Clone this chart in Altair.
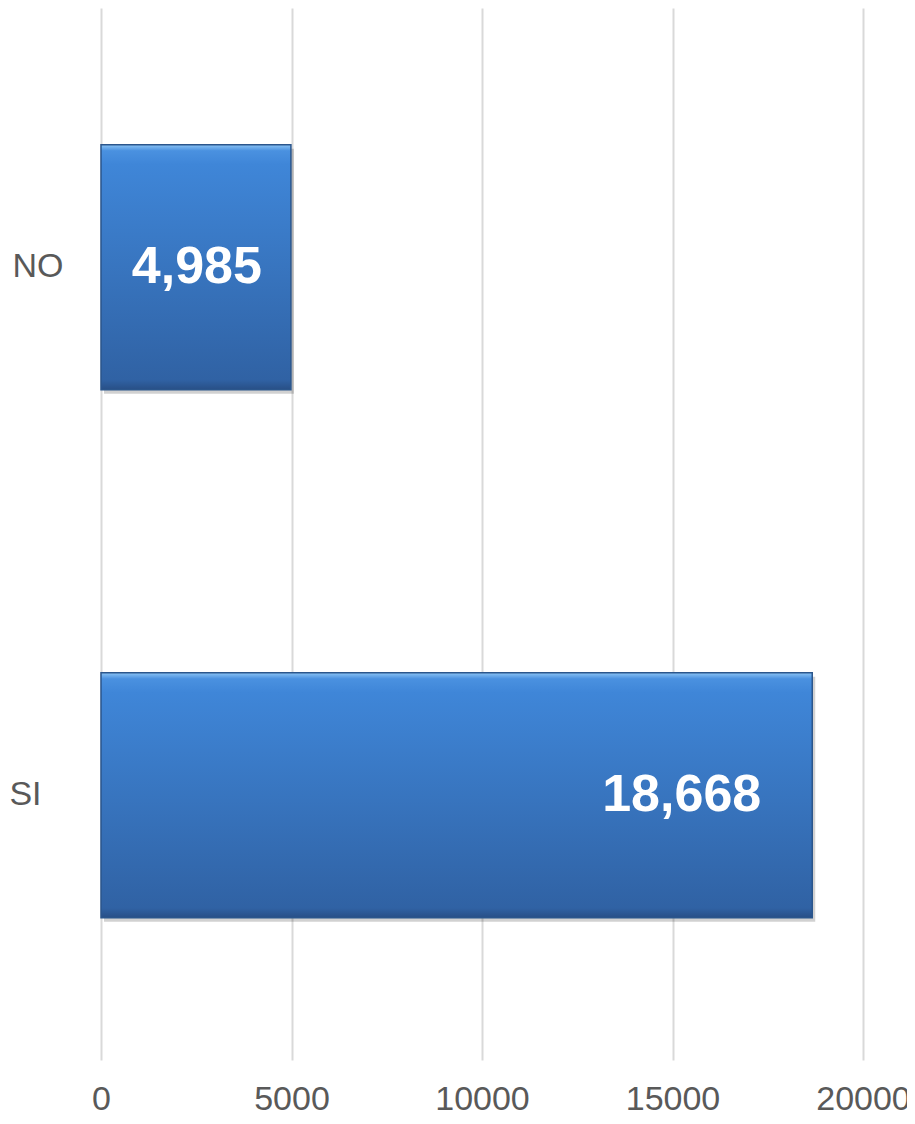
import altair as alt
import pandas as pd

categories = ["NO", "SI"]
values = [4985, 18668]
labels = ["4,985", "18,668"]
x_ticks = [0, 5000, 10000, 15000, 20000]

df = pd.DataFrame({"cat": categories, "val": values, "lab": labels})

y_enc = alt.Y(
    "cat:N",
    sort=categories,
    scale=alt.Scale(paddingInner=0.536, paddingOuter=0.264, align=0.49),
    axis=alt.Axis(
        title=None,
        domain=False,
        ticks=False,
        grid=False,
        labelFont="Liberation Sans",
        labelFontSize=34,
        labelColor="#595959",
        labelAlign="right",
        labelBaseline="middle",
        labelPadding=alt.condition("datum.value == 'SI'", alt.value(60), alt.value(38)),
    ),
)
x_enc = alt.X(
    "val:Q",
    scale=alt.Scale(domain=[0, 20000], nice=False, zero=True),
    axis=alt.Axis(
        title=None,
        values=x_ticks,
        format="d",
        domain=False,
        ticks=False,
        grid=True,
        gridColor="#d9d9d9",
        gridWidth=2,
        labelFont="Liberation Sans",
        labelFontSize=34,
        labelColor="#595959",
        labelPadding=22,
        labelFlush=False,
        labelOverlap=False,
    ),
)

base = alt.Chart(df)

shadow = base.mark_bar(color="#000000", opacity=0.18, xOffset=3, yOffset=4).encode(x=x_enc, y=y_enc)

bars = base.mark_bar(
    color=alt.Gradient(
        gradient="linear",
        x1=0, x2=0, y1=0, y2=1,
        stops=[
            alt.GradientStop(offset=0, color="#8cc4f5"),
            alt.GradientStop(offset=0.025, color="#4a91e0"),
            alt.GradientStop(offset=0.08, color="#3f86d8"),
            alt.GradientStop(offset=0.96, color="#3062a4"),
            alt.GradientStop(offset=1, color="#284f86"),
        ],
    ),
    stroke="#2b568c",
    strokeWidth=1.5,
).encode(x=x_enc, y=y_enc)

text_style = dict(
    align="right",
    baseline="middle",
    font="Liberation Sans",
    fontWeight="bold",
    fontSize=52,
    color="#ffffff",
)
text_enc = dict(
    x=alt.X("val:Q"),
    y=alt.Y("cat:N", sort=categories),
    text="lab:N",
)
text_no = base.transform_filter("datum.cat == 'NO'").mark_text(dx=-29, **text_style).encode(**text_enc)
text_si = base.transform_filter("datum.cat == 'SI'").mark_text(dx=-51, **text_style).encode(**text_enc)

chart = (
    alt.layer(shadow, bars, text_no, text_si)
    .properties(
        width=762,
        height=1052,
        autosize=alt.AutoSizeParams(type="none"),
        padding={"left": 93, "top": 0, "right": 44, "bottom": 56},
    )
    .configure_view(stroke=None)
)

chart.save("out.html", embed_options={"renderer": "svg", "actions": False})
